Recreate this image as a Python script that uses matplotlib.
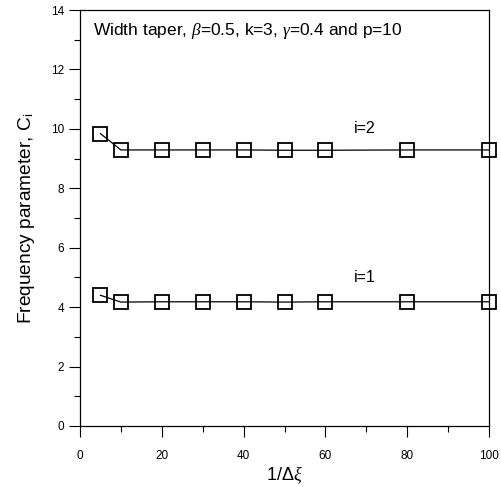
import matplotlib.pyplot as plt
from matplotlib.ticker import MultipleLocator

plt.rcParams['font.family'] = ['Liberation Sans', 'DejaVu Sans']
plt.rcParams['mathtext.fontset'] = 'custom'
plt.rcParams['mathtext.it'] = 'Liberation Serif:italic'
plt.rcParams['mathtext.rm'] = 'Liberation Sans'

# data
inv_dxi = [5, 10, 20, 30, 40, 50, 60, 80, 100]
c_i1 = [4.40, 4.17, 4.18, 4.18, 4.18, 4.17, 4.18, 4.18, 4.18]
c_i2 = [9.84, 9.29, 9.29, 9.29, 9.29, 9.28, 9.28, 9.29, 9.29]

fig = plt.figure(figsize=(5.01, 4.87), dpi=100)
ax = fig.add_axes([80 / 501, 1 - 426 / 487, (489 - 80) / 501, (426 - 10) / 487])

for vals in (c_i1, c_i2):
    ax.plot(inv_dxi, vals, 'k-', linewidth=0.9, marker='s', markersize=10,
            markerfacecolor='none', markeredgecolor='black', markeredgewidth=1.3,
            clip_on=False, zorder=3)

ax.text(69.5, 10.0, 'i=2', fontsize=11.5, ha='center', va='center')
ax.text(69.5, 5.0, 'i=1', fontsize=11.5, ha='center', va='center')
ax.text(3.2, 13.3, r'Width taper, $\beta$=0.5, k=3, $\gamma$=0.4 and p=10',
        fontsize=12.5, ha='left', va='center')

ax.set_xlim(0, 100)
ax.set_ylim(0, 14)
ax.xaxis.set_major_locator(MultipleLocator(20))
ax.xaxis.set_minor_locator(MultipleLocator(10))
ax.yaxis.set_major_locator(MultipleLocator(2))
ax.yaxis.set_minor_locator(MultipleLocator(1))
ax.tick_params(which='major', direction='out', length=8, width=0.8, labelsize=8.5,
               top=False, right=False)
ax.tick_params(which='minor', direction='out', length=4, width=0.8,
               top=False, right=False)
ax.tick_params(axis='x', pad=9)

for s in ax.spines.values():
    s.set_linewidth(0.9)

ax.set_xlabel(r'1/$\Delta\xi$', fontsize=13, labelpad=2)
ax.set_ylabel(r'Frequency parameter, C$_\mathregular{i}$', fontsize=13.8, labelpad=10)

fig.savefig('out.png', dpi=100)
